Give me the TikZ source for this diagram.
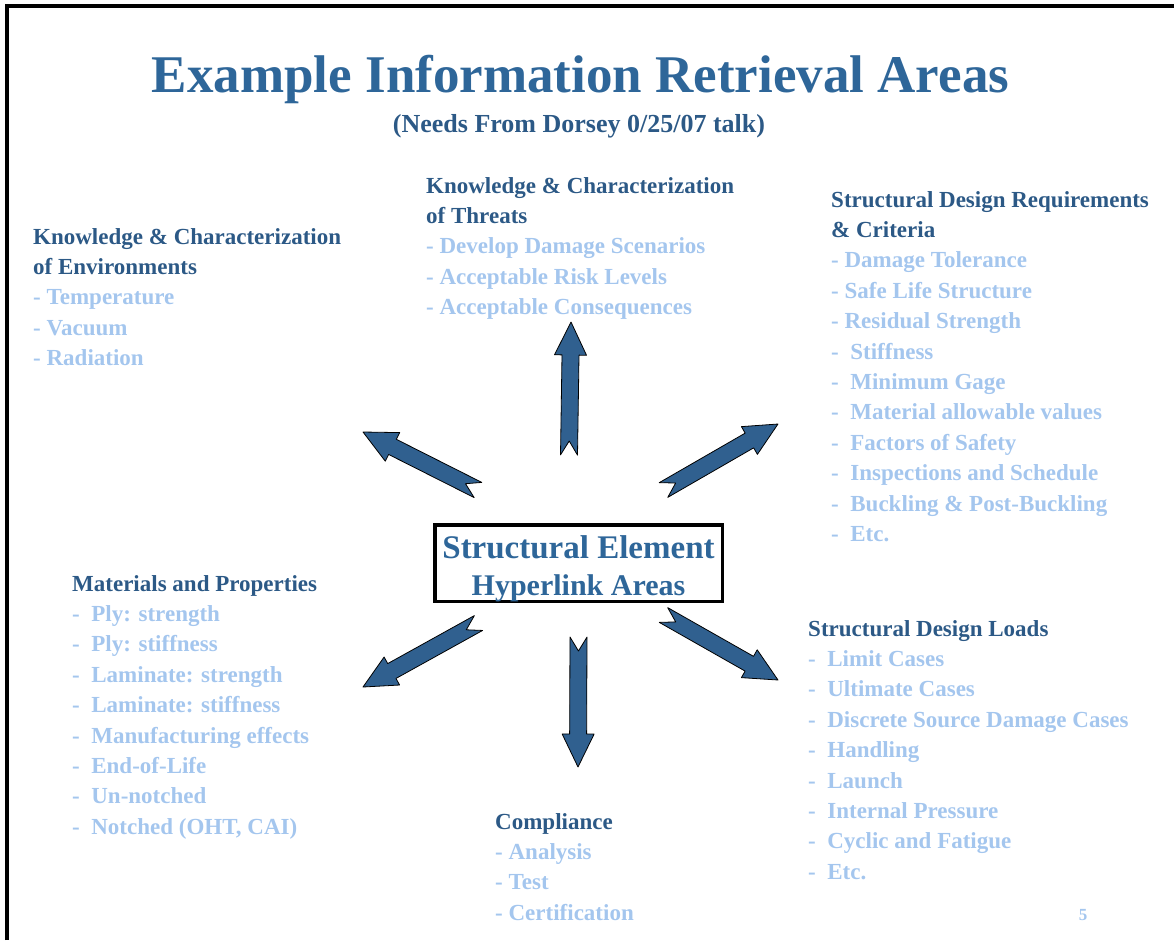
\documentclass[tikz,border=0pt]{standalone}
\usepackage{fontspec}
\setmainfont{Liberation Serif}
\usepackage{xcolor}
\definecolor{titleBlue}{HTML}{2E6699}
\definecolor{headBlue}{HTML}{2C5986}
\definecolor{itemBlue}{HTML}{A4C6EE}
\definecolor{arrowBlue}{HTML}{30608F}
\usetikzlibrary{calc}

\tikzset{
  area/.style={anchor=base west, align=left, inner sep=0pt,
    font=\fontsize{23}{30.4}\selectfont\bfseries, text=itemBlue},
  hubbox/.style={draw=black, line width=3.5pt, minimum width=287.5pt,
    minimum height=76.5pt, inner sep=0pt},
  hublabel/.style={anchor=base, align=center, inner sep=0pt,
    font=\fontsize{33}{37}\selectfont\bfseries, text=titleBlue},
  arrowshape/.style={fill=arrowBlue, draw=black, line width=0.8pt, line join=round}
}
\newcommand{\head}[1]{\textcolor{headBlue}{#1}}
\newcommand{\wideitem}[1]{-\hspace{11.5pt}#1}
\newcommand{\notcharrow}[2]{%
  \filldraw[arrowshape] let \p1=($(#2)-(#1)$), \n1={atan2(\y1,\x1)},
      \n2={veclen(\x1,\y1)} in [shift={(#1)}, rotate=\n1]
    (0,8.5) -- (14,0) -- (0,-8.5) -- (\n2-33,-8.5) -- (\n2-33,-16) -- (\n2,0)
    -- (\n2-33,16) -- (\n2-33,8.5) -- cycle;}

\begin{document}
\begin{tikzpicture}[x=1pt, y=-1pt]
  \useasboundingbox (0,0) rectangle (1174,940);
  \draw[line width=4pt] (7,940) -- (7,6) -- (1174,6);

  % title
  \node[anchor=base, inner sep=0pt, font=\fontsize{53}{60}\selectfont\bfseries,
    text=titleBlue] (title) at (580.5,92) {Example Information Retrieval Areas};
  \node[anchor=base, inner sep=0pt, font=\fontsize{26}{30}\selectfont\bfseries,
    text=headBlue] (subtitle) at (579,132) {(Needs From Dorsey 0/25/07 talk)};

  % centre (base = last line)
  \node[hubbox] (hub) at (578.5,563) {};
  \node[hublabel] (hubLabel) at (578.5,595)
    {Structural Element\\{\fontsize{30}{37}\selectfont Hyperlink Areas}};

  % areas (anchored on the baseline of the last line)
  \node[area] (envArea) at (33,365.6) {\head{Knowledge \& Characterization}\\
    \head{of Environments}\\- Temperature\\- Vacuum\\- Radiation};
  \node[area] (threatArea) at (426,314.6) {\head{Knowledge \& Characterization}\\
    \head{of Threats}\\- Develop Damage Scenarios\\- Acceptable Risk Levels\\
    - Acceptable Consequences};
  \node[area] (reqArea) at (831,541.4) {\head{Structural Design Requirements}\\
    \head{\& Criteria}\\- Damage Tolerance\\- Safe Life Structure\\
    - Residual Strength\\\wideitem{Stiffness}\\\wideitem{Minimum Gage}\\
    \wideitem{Material allowable values}\\\wideitem{Factors of Safety}\\
    \wideitem{Inspections and Schedule}\\\wideitem{Buckling \& Post-Buckling}\\
    \wideitem{Etc.}};
  \node[area] (matArea) at (72,834.2) {\head{Materials and Properties}\\
    \wideitem{Ply: strength}\\\wideitem{Ply: stiffness}\\
    \wideitem{Laminate: strength}\\\wideitem{Laminate: stiffness}\\
    \wideitem{Manufacturing effects}\\\wideitem{End-of-Life}\\
    \wideitem{Un-notched}\\\wideitem{Notched (OHT, CAI)}};
  \node[area] (loadArea) at (808,879.2) {\head{Structural Design Loads}\\
    \wideitem{Limit Cases}\\\wideitem{Ultimate Cases}\\
    \wideitem{Discrete Source Damage Cases}\\\wideitem{Handling}\\
    \wideitem{Launch}\\\wideitem{Internal Pressure}\\
    \wideitem{Cyclic and Fatigue}\\\wideitem{Etc.}};
  \node[area] (compArea) at (495,920.2) {\head{Compliance}\\- Analysis\\- Test\\
    - Certification};

  \node[anchor=base, inner sep=0pt, font=\fontsize{17}{20}\selectfont\bfseries,
    text=itemBlue] (pageNum) at (1083,920) {5};

  % arrows
  \coordinate (upTail) at (569,455);   \coordinate (upTip) at (571,322);
  \coordinate (ulTail) at (478,490);   \coordinate (ulTip) at (363,432);
  \coordinate (urTail) at (663.5,490); \coordinate (urTip) at (778,424);
  \coordinate (llTail) at (478.5,623); \coordinate (llTip) at (363,687);
  \coordinate (lrTail) at (663.5,615); \coordinate (lrTip) at (778,680);
  \coordinate (dnTail) at (578.5,637); \coordinate (dnTip) at (578,767);
  \notcharrow{upTail}{upTip}
  \notcharrow{ulTail}{ulTip}
  \notcharrow{urTail}{urTip}
  \notcharrow{llTail}{llTip}
  \notcharrow{lrTail}{lrTip}
  \notcharrow{dnTail}{dnTip}
\end{tikzpicture}
\end{document}
